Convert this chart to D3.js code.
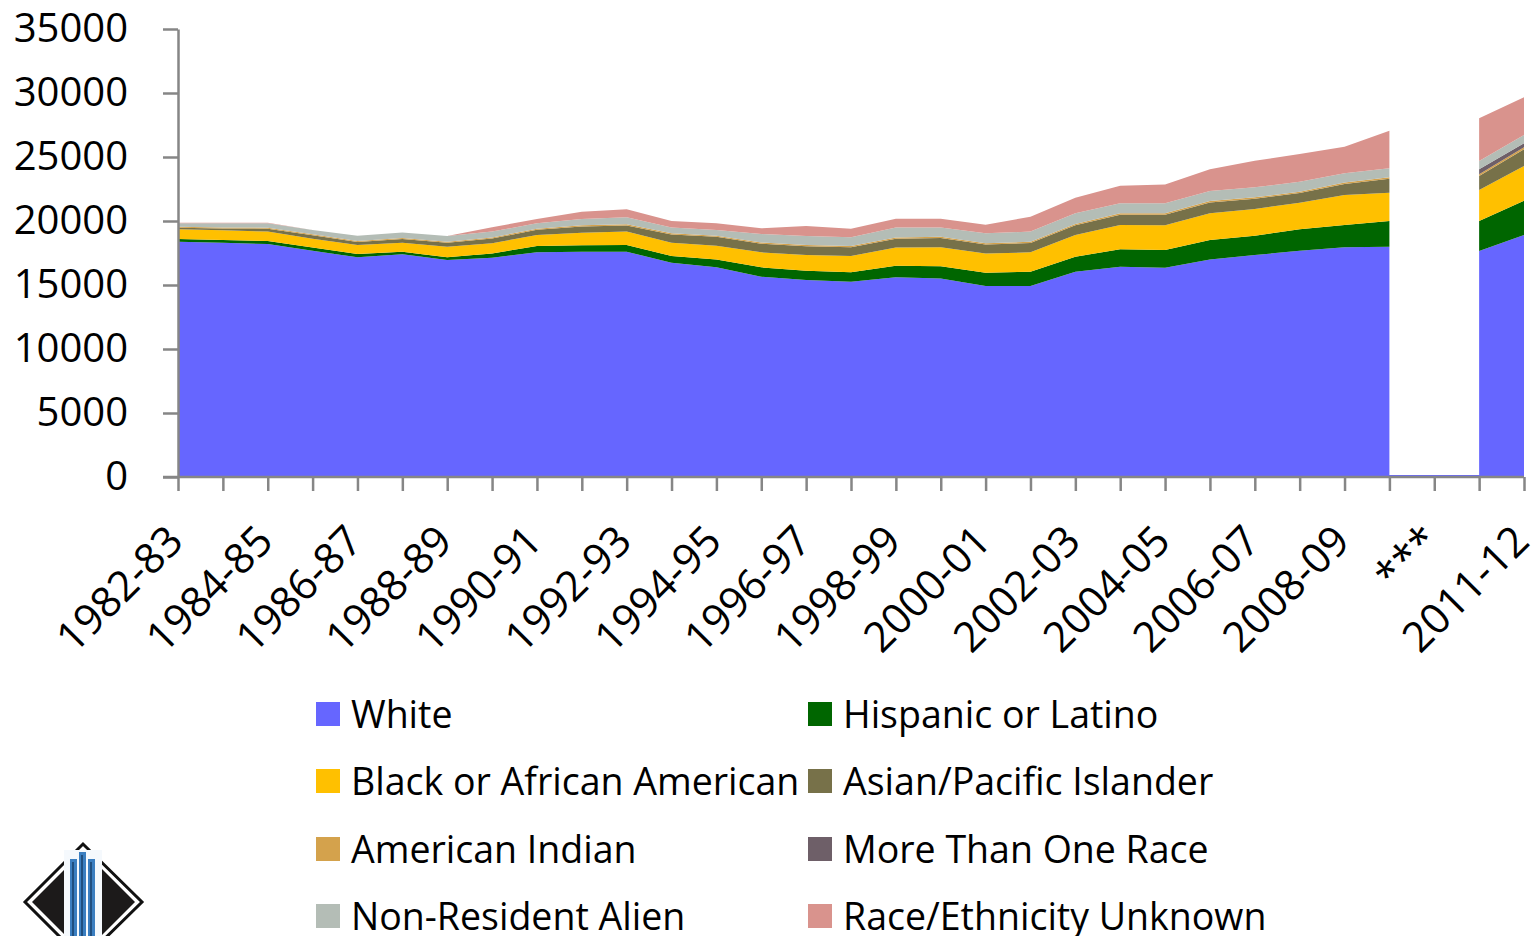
<!DOCTYPE html>
<html>
<head>
<meta charset="utf-8">
<script src="https://cdn.jsdelivr.net/npm/d3@7/dist/d3.min.js"></script>
<style>
  html, body { margin: 0; padding: 0; background: #fff; }
  svg { display: block; }
  text { font-family: "Open Sans", sans-serif; fill: #000; }
</style>
</head>
<body>
<svg id="chart" width="1536" height="936"></svg>
<script>
// ---------- data ----------
const categories = ["1982-83","1983-84","1984-85","1985-86","1986-87","1987-88","1988-89","1989-90",
  "1990-91","1991-92","1992-93","1993-94","1994-95","1995-96","1996-97","1997-98","1998-99","1999-00",
  "2000-01","2001-02","2002-03","2003-04","2004-05","2005-06","2006-07","2007-08","2008-09","2009-10",
  "***","2010-11","2011-12"];
const yTicks = [0, 5000, 10000, 15000, 20000, 25000, 30000, 35000];

const white    = [18380,18300,18200,17680,17160,17400,16950,17130,17550,17600,17600,16740,16380,15650,15390,15260,15600,15500,14920,14920,16040,16430,16350,17000,17340,17680,17940,17990,null,17660,18900];
const hispanic = [210,220,240,240,260,200,210,340,500,500,520,530,620,730,730,740,910,960,1040,1120,1170,1360,1380,1520,1510,1670,1750,2010,null,2340,2690];
const black    = [760,750,730,700,700,700,830,790,850,990,1050,1030,1070,1170,1220,1270,1410,1480,1510,1510,1690,1900,1930,2080,2090,2080,2340,2210,null,2420,2710];
const asian    = [130,150,230,260,240,290,310,370,410,480,480,650,690,680,680,680,700,730,690,730,770,800,830,850,800,750,860,1090,null,1100,1300];
const amIndian = [80,80,80,80,80,80,80,90,90,90,90,90,90,100,100,100,100,100,100,100,100,110,110,110,110,110,110,110,null,130,160];
const multi    = [0,0,0,0,0,0,0,0,0,0,0,0,0,0,0,0,0,0,0,0,0,0,0,0,0,0,0,0,null,390,310];
const nra      = [260,320,340,340,410,440,450,450,420,500,550,460,450,650,710,690,780,730,780,790,830,780,780,780,780,780,730,710,null,650,650];
const unknown  = [40,40,40,0,0,0,0,350,330,570,620,500,520,450,780,650,680,680,670,1170,1220,1380,1480,1700,2080,2160,2070,2930,null,3330,2940];

const seriesNames = ["White","Hispanic or Latino","Black or African American","Asian/Pacific Islander",
  "American Indian","More Than One Race","Non-Resident Alien","Race/Ethnicity Unknown"];
const seriesValues = [white, hispanic, black, asian, amIndian, multi, nra, unknown];
const seriesColors = ["#6666FF","#006600","#FFC000","#777149","#D4A24C","#6E5F68","#B4BDB6","#D9938D"];

// ---------- build ----------
const rows = categories.map((c, i) => {
  const r = { cat: c, i: i, defined: seriesValues[0][i] !== null };
  seriesNames.forEach((n, j) => { r[n] = seriesValues[j][i] === null ? 0 : seriesValues[j][i]; });
  return r;
});

const svg = d3.select("#chart");
const x = d3.scalePoint().domain(categories).range([178, 1524]);
const y = d3.scaleLinear().domain([0, 35000]).range([477, 29]);

const stack = d3.stack().keys(seriesNames);
const layers = stack(rows);

const area = d3.area()
  .defined(d => d.data.defined)
  .x(d => x(d.data.cat))
  .y0(d => y(d[0]))
  .y1(d => y(d[1]));

svg.append("g").selectAll("path").data(layers).join("path")
  .attr("d", area)
  .attr("fill", (d, i) => seriesColors[i]);

// zero line of the first series across the gap
svg.append("line")
  .attr("x1", x(categories[0])).attr("x2", x(categories[categories.length - 1]))
  .attr("y1", y(0) - 1).attr("y2", y(0) - 1)
  .attr("stroke", seriesColors[0]).attr("stroke-width", 2);

// ---------- axes ----------
const axisColor = "#868686";
const yAxis = d3.axisLeft(y).tickValues(yTicks).tickSize(15).tickSizeOuter(0).tickPadding(35).tickFormat(d3.format("d"));
const gy = svg.append("g").attr("transform", "translate(178,0)").call(yAxis);
gy.selectAll("path, line").attr("stroke", axisColor).attr("stroke-width", 2.5);
gy.selectAll("text").style("font-size", "40px").attr("fill", "#000");

const xAxis = d3.axisBottom(x).tickSize(14).tickSizeOuter(0).tickFormat(() => "");
const gx = svg.append("g").attr("transform", "translate(0,477)").call(xAxis);
gx.selectAll("path, line").attr("stroke", axisColor).attr("stroke-width", 2.5);
gx.select("path.domain").attr("d", "M163,0H1524");

// x labels
svg.append("g").selectAll("text")
  .data(categories.filter((c, i) => i % 2 === 0))
  .join("text")
  .attr("text-anchor", "end")
  .attr("transform", d => `translate(${x(d) - 14},${522}) rotate(-45)`)
  .attr("dy", "0.72em")
  .style("font-size", "42px")
  .text(d => d);

// ---------- legend ----------
const legendCols = [316, 808];
const legendRows = [714, 781, 849, 916];
const lg = svg.append("g");
seriesNames.forEach((n, i) => {
  const lx = legendCols[i % 2];
  const ly = legendRows[Math.floor(i / 2)];
  lg.append("rect").attr("x", lx).attr("y", ly - 12).attr("width", 24).attr("height", 24).attr("fill", seriesColors[i]);
  lg.append("text").attr("x", lx + 35).attr("y", ly).attr("dy", "0.36em").style("font-size", "37.5px").text(n);
});

// ---------- logo (decoration) ----------
const logo = svg.append("g");
logo.append("polygon").attr("points", "25,902 83,844 142,902 83,960").attr("fill", "none").attr("stroke", "#111").attr("stroke-width", 3);
logo.append("polygon").attr("points", "32,902 64,870 64,934").attr("fill", "#1c1a1a");
logo.append("polygon").attr("points", "135,902 102,869 102,935").attr("fill", "#1c1a1a");
logo.append("rect").attr("x", 64).attr("y", 850).attr("width", 38).attr("height", 90).attr("fill", "#f5f9fd");
[70, 79, 88].forEach(bx => {
  logo.append("rect").attr("x", bx).attr("y", 855 + (bx === 79 ? -3 : 4)).attr("width", 7).attr("height", 90).attr("fill", "#3a7ec0");
  logo.append("rect").attr("x", bx + 2).attr("y", 858 + (bx === 79 ? -3 : 4)).attr("width", 2).attr("height", 90).attr("fill", "#1f4f80");
});
</script>
</body>
</html>
